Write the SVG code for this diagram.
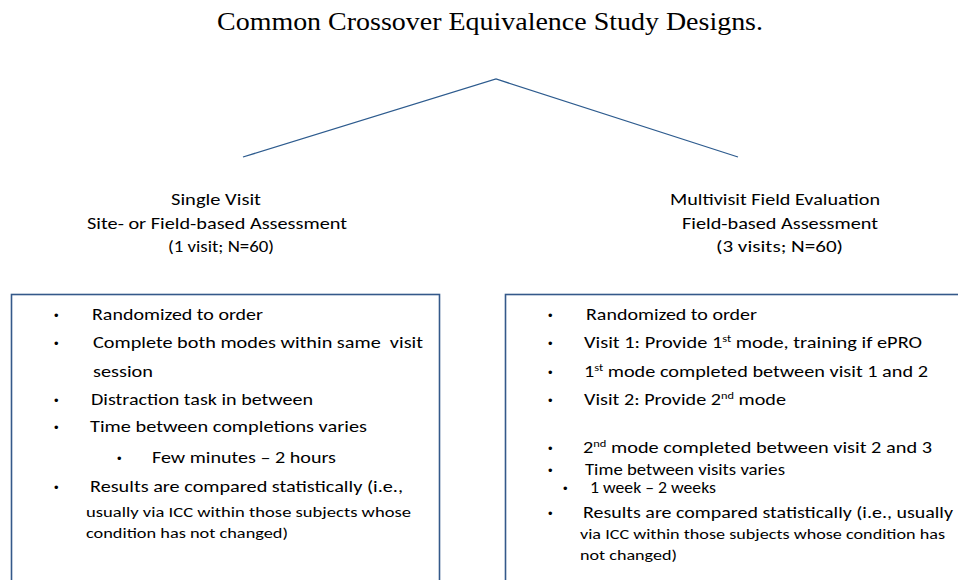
<svg xmlns="http://www.w3.org/2000/svg" width="958" height="580" viewBox="0 0 958 580">
  <style>
    .title { font-family: "Liberation Serif", "Times New Roman", serif; font-size: 25px; fill: #000; }
    .head { font-family: Carlito, "Liberation Sans", Arial, sans-serif; font-size: 15.5px; fill: #000; }
    .body { font-family: Carlito, "Liberation Sans", Arial, sans-serif; font-size: 15.5px; fill: #000; }
    .small { font-size: 14.5px; }
    .dot { font-family: "Liberation Sans", Arial, sans-serif; font-size: 13px; fill: #000; }
    .sup { font-size: 9.5px; }
    .box { fill: #ffffff; stroke: #34598a; stroke-width: 1.6; }
    .link { fill: none; stroke: #2d5b8e; stroke-width: 1.3; }
  </style>

  <rect width="958" height="580" fill="#ffffff"/>

  <text id="title" class="title" x="217" y="30" textLength="546" lengthAdjust="spacingAndGlyphs">Common Crossover Equivalence Study Designs.</text>

  <!-- branching connector from the title to both designs -->
  <g id="connectors">
    <polyline class="link" points="243,157 496,79 738,157"/>
  </g>

  <g id="single-visit">
    <text class="head" x="171" y="205" textLength="90" lengthAdjust="spacingAndGlyphs">Single Visit</text>
    <text class="head" x="87" y="229" textLength="260" lengthAdjust="spacingAndGlyphs">Site- or Field-based Assessment</text>
    <text class="head" x="168" y="252" textLength="106" lengthAdjust="spacingAndGlyphs">(1 visit; N=60)</text>

    <rect class="box" x="11.5" y="294.5" width="428" height="320"/>

    <text class="dot" x="54" y="320">•</text>
    <text class="body" x="92" y="320" textLength="171" lengthAdjust="spacingAndGlyphs">Randomized to order</text>
    <text class="dot" x="54" y="348">•</text>
    <text class="body" x="93" y="348" textLength="330" lengthAdjust="spacingAndGlyphs" xml:space="preserve">Complete both modes within same  visit</text>
    <text class="body" x="93" y="377" textLength="60" lengthAdjust="spacingAndGlyphs">session</text>
    <text class="dot" x="54" y="405">•</text>
    <text class="body" x="91" y="405" textLength="222" lengthAdjust="spacingAndGlyphs">Distraction task in between</text>
    <text class="dot" x="54" y="432">•</text>
    <text class="body" x="90" y="432" textLength="277" lengthAdjust="spacingAndGlyphs">Time between completions varies</text>
    <text class="dot" x="117" y="463">•</text>
    <text class="body" x="152" y="463" textLength="184" lengthAdjust="spacingAndGlyphs">Few minutes – 2 hours</text>
    <text class="dot" x="54" y="492">•</text>
    <text class="body" x="90" y="492" textLength="313" lengthAdjust="spacingAndGlyphs">Results are compared statistically (i.e.,</text>
    <text class="body small" x="86" y="517" textLength="325" lengthAdjust="spacingAndGlyphs">usually via ICC within those subjects whose</text>
    <text class="body small" x="86" y="538" textLength="202" lengthAdjust="spacingAndGlyphs">condition has not changed)</text>
  </g>

  <g id="multivisit">
    <text class="head" x="670" y="205" textLength="210" lengthAdjust="spacingAndGlyphs">Multivisit Field Evaluation</text>
    <text class="head" x="682" y="229" textLength="196" lengthAdjust="spacingAndGlyphs">Field-based Assessment</text>
    <text class="head" x="716" y="252" textLength="127" lengthAdjust="spacingAndGlyphs">(3 visits; N=60)</text>

    <rect class="box" x="505.5" y="294.5" width="470" height="320"/>

    <text class="dot" x="548" y="320">•</text>
    <text class="body" x="586" y="320" textLength="171" lengthAdjust="spacingAndGlyphs">Randomized to order</text>
    <text class="dot" x="548" y="348">•</text>
    <text class="body" x="584" y="348" textLength="338" lengthAdjust="spacingAndGlyphs">Visit 1: Provide 1<tspan class="sup" dy="-6">st</tspan><tspan dy="6"> mode, training if ePRO</tspan></text>
    <text class="dot" x="548" y="377">•</text>
    <text class="body" x="584" y="377" textLength="344" lengthAdjust="spacingAndGlyphs">1<tspan class="sup" dy="-6">st</tspan><tspan dy="6"> mode completed between visit 1 and 2</tspan></text>
    <text class="dot" x="548" y="405">•</text>
    <text class="body" x="584" y="405" textLength="202" lengthAdjust="spacingAndGlyphs">Visit 2: Provide 2<tspan class="sup" dy="-6">nd</tspan><tspan dy="6"> mode</tspan></text>
    <text class="dot" x="548" y="453">•</text>
    <text class="body" x="583" y="453" textLength="349" lengthAdjust="spacingAndGlyphs">2<tspan class="sup" dy="-6">nd</tspan><tspan dy="6"> mode completed between visit 2 and 3</tspan></text>
    <text class="dot" x="548" y="475">•</text>
    <text class="body" x="585" y="475" textLength="200" lengthAdjust="spacingAndGlyphs">Time between visits varies</text>
    <text class="dot" x="563" y="493">•</text>
    <text class="body" x="590" y="493" textLength="126" lengthAdjust="spacingAndGlyphs">1 week – 2 weeks</text>
    <text class="dot" x="548" y="518">•</text>
    <text class="body" x="583" y="518" textLength="370" lengthAdjust="spacingAndGlyphs">Results are compared statistically (i.e., usually</text>
    <text class="body small" x="580" y="539" textLength="365" lengthAdjust="spacingAndGlyphs">via ICC within those subjects whose condition has</text>
    <text class="body small" x="580" y="560" textLength="97" lengthAdjust="spacingAndGlyphs">not changed)</text>
  </g>
</svg>
